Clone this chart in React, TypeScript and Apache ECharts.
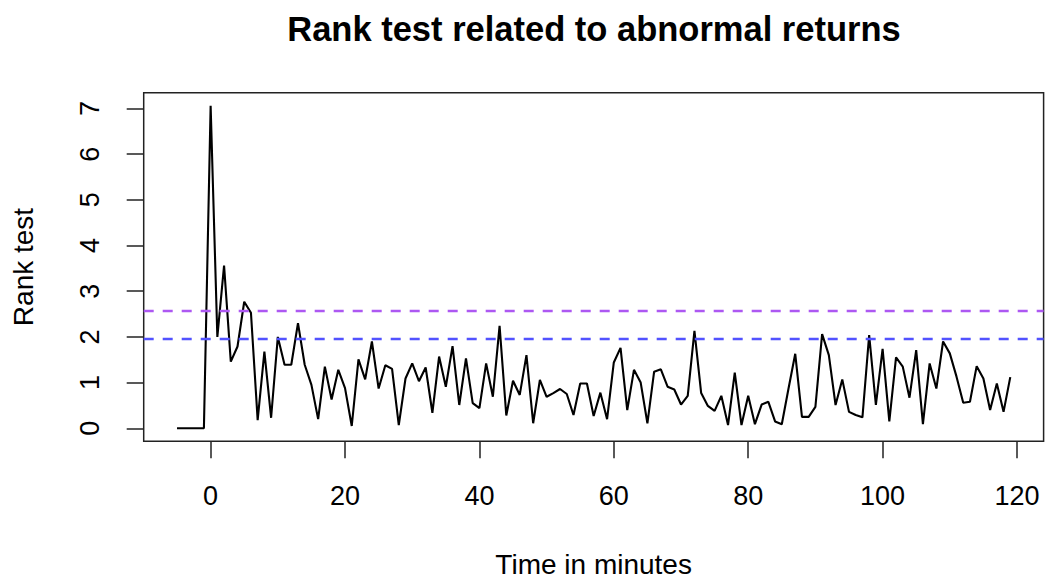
import React, { useEffect, useRef } from "react";
import * as echarts from "echarts";

// Rank test statistic per minute relative to the event (minute 0)
const START_MINUTE = -5;
const rankTest: number[] = [
  0, 0, 0, 0, 0,
  7.06, 2.0, 3.56, 1.46, 1.79, 2.77, 2.53, 0.18, 1.68, 0.23,
  2.0, 1.39, 1.39, 2.3, 1.39, 0.95, 0.2, 1.35, 0.63, 1.28,
  0.88, 0.05, 1.51, 1.07, 1.9, 0.87, 1.38, 1.3, 0.07, 1.09,
  1.42, 1.03, 1.33, 0.34, 1.57, 0.91, 1.8, 0.51, 1.53, 0.55,
  0.44, 1.42, 0.69, 2.24, 0.28, 1.04, 0.73, 1.6, 0.11, 1.06,
  0.69, 0.77, 0.86, 0.75, 0.29, 0.98, 0.98, 0.27, 0.78, 0.2,
  1.44, 1.76, 0.4, 1.28, 1.0, 0.11, 1.24, 1.29, 0.91, 0.85,
  0.52, 0.71, 2.13, 0.77, 0.49, 0.38, 0.71, 0.07, 1.22, 0.07,
  0.71, 0.09, 0.52, 0.58, 0.15, 0.09, 0.87, 1.63, 0.25, 0.25,
  0.47, 2.06, 1.6, 0.51, 1.07, 0.36, 0.29, 0.24, 2.04, 0.51,
  1.74, 0.15, 1.55, 1.35, 0.67, 1.71, 0.09, 1.42, 0.87, 1.9,
  1.64, 1.13, 0.56, 0.58, 1.36, 1.09, 0.4, 0.98, 0.36, 1.12,
];

// Critical values (5% and 1% two-sided)
const criticalValues = [
  { value: 1.96, color: "#5252ff" },
  { value: 2.576, color: "#ad58f2" },
];

const xTicks = [0, 20, 40, 60, 80, 100, 120];
const yTicks = [0, 1, 2, 3, 4, 5, 6, 7];

const FONT = "'Liberation Sans', Arial, Helvetica, sans-serif";

export default function App() {
  const ref = useRef<HTMLDivElement>(null);

  useEffect(() => {
    if (!ref.current) return;
    const chart = echarts.init(ref.current, undefined, { renderer: "svg" });

    const points = rankTest.map((v, i) => [START_MINUTE + i, v]);
    const xs = points.map((p) => p[0]);
    const xLo = Math.min(...xs);
    const xHi = Math.max(...xs);
    const yLo = Math.min(...rankTest);
    const yHi = Math.max(...rankTest);
    const xPad = (xHi - xLo) * 0.04;
    const yPad = (yHi - yLo) * 0.04;

    chart.setOption({
      animation: false,
      backgroundColor: "#ffffff",
      title: {
        text: "Rank test related to abnormal returns",
        left: 589,
        top: 6,
        textAlign: "center",
        textStyle: {
          fontFamily: FONT,
          fontWeight: "bold",
          fontSize: 34.5,
          color: "#000",
        },
      },
      grid: {
        left: 143.7,
        right: 2.4,
        top: 92.8,
        bottom: 137.8,
        show: true,
        borderColor: "#222",
        borderWidth: 1.5,
        backgroundColor: "transparent",
        containLabel: false,
        outerBoundsMode: "none",
      },
      xAxis: {
        type: "value",
        min: xLo - xPad,
        max: xHi + xPad,
        name: "Time in minutes",
        nameLocation: "middle",
        nameGap: 109,
        nameTextStyle: { fontFamily: FONT, fontSize: 28, color: "#000" },
        axisLine: { show: false, onZero: false },
        splitLine: { show: false },
        axisTick: {
          show: true,
          inside: false,
          length: 17,
          customValues: xTicks,
          lineStyle: { color: "#222", width: 1.5 },
        },
        axisLabel: {
          customValues: xTicks,
          margin: 41,
          fontFamily: FONT,
          fontSize: 27,
          color: "#000",
          showMinLabel: true,
          showMaxLabel: true,
        },
      },
      yAxis: {
        type: "value",
        min: yLo - yPad,
        max: yHi + yPad,
        name: "Rank test",
        nameLocation: "middle",
        nameGap: 106,
        nameTextStyle: { fontFamily: FONT, fontSize: 28, color: "#000" },
        axisLine: { show: false, onZero: false },
        splitLine: { show: false },
        axisTick: {
          show: true,
          inside: false,
          length: 17,
          customValues: yTicks,
          lineStyle: { color: "#222", width: 1.5 },
        },
        axisLabel: {
          customValues: yTicks,
          rotate: 90,
          margin: 40,
          fontFamily: FONT,
          fontSize: 27,
          color: "#000",
        },
      },
      series: [
        {
          type: "line",
          data: points,
          showSymbol: false,
          symbol: "none",
          lineStyle: { color: "#000", width: 2.1 },
          clip: true,
          markLine: {
            silent: true,
            symbol: "none",
            label: { show: false },
            data: criticalValues.map((c) => ({
              yAxis: c.value,
              lineStyle: { color: c.color, type: [10, 9], width: 2.4 },
            })),
          },
        },
      ],
    });

    return () => chart.dispose();
  }, []);

  return (
    <div
      ref={ref}
      style={{ position: "fixed", left: 0, top: 0, width: 1046, height: 579, background: "#fff" }}
    />
  );
}
